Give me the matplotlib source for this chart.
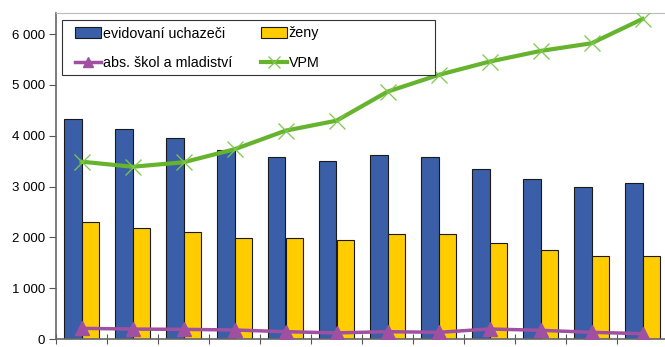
import numpy as np
import matplotlib.pyplot as plt
from matplotlib.patches import Rectangle
from matplotlib.ticker import FuncFormatter, FixedLocator

plt.rcParams['font.family'] = ['Liberation Sans', 'DejaVu Sans']

# Data (12 periods)
uchazeci = [4330, 4135, 3950, 3720, 3578, 3498, 3622, 3578, 3346, 3144, 2986, 3065]
zeny = [2297, 2185, 2106, 1988, 1988, 1943, 2073, 2060, 1896, 1746, 1634, 1640]
absolventi = [210, 195, 190, 177, 144, 120, 144, 131, 197, 171, 132, 105]
vpm = [3490, 3390, 3478, 3734, 4100, 4297, 4868, 5197, 5459, 5669, 5820, 6299]

x = np.arange(len(uchazeci))
w = 0.34

fig = plt.figure(figsize=(6.65, 3.47), dpi=100)
ax = fig.add_axes([56 / 665, 1 - 339 / 347, 1 - 56 / 665, (339 - 13.3) / 347])

b1 = ax.bar(x - w / 2, uchazeci, w, color='#3A5FA8', edgecolor='#1a1a1a', linewidth=0.8,
            label='evidovaní uchazeči', zorder=2)
b2 = ax.bar(x + w / 2, zeny, w, color='#FFCC00', edgecolor='#1a1a1a', linewidth=0.8,
            label='ženy', zorder=2)
l1, = ax.plot(x, absolventi, color='#A050A0', linewidth=2.5, marker='^', markersize=10,
              label='abs. škol a mladiství', zorder=3)
l2, = ax.plot(x, vpm, color='#66B32E', linewidth=3, marker='x', markersize=11,
              markeredgewidth=0.9, markeredgecolor='#7CC94A', label='VPM', zorder=3)

ax.set_xlim(-0.5, -0.5 + (665 - 56) / 51)
ax.set_ylim(0, 6410)
ax.set_yticks(range(0, 7000, 1000))
ax.yaxis.set_major_formatter(FuncFormatter(lambda v, p: f'{int(v):,}'.replace(',', ' ')))
ax.xaxis.set_major_locator(FixedLocator(np.arange(-0.5, 12, 1)))
ax.set_xticklabels([])
ax.tick_params(axis='x', direction='inout', length=7, width=0.8, color='#555555')
ax.tick_params(axis='y', direction='out', length=5, width=0.8, color='#555555',
               labelsize=9.5, pad=3)

for s in ['left', 'bottom']:
    ax.spines[s].set_color('#666666')
    ax.spines[s].set_linewidth(1.2)
ax.spines['top'].set_color('#bbbbbb')
ax.spines['right'].set_visible(False)

# legend box (white, framed) behind the legend entries
ax.add_patch(Rectangle((62 / 665, 1 - 75 / 347), 373 / 665, 55 / 347,
                       transform=fig.transFigure, facecolor='white',
                       edgecolor='#333333', linewidth=0.8, zorder=5, clip_on=False))
leg = ax.legend(handles=[b1, l1, b2, l2], ncol=2, loc='upper left',
                bbox_to_anchor=(75 / 665, 1 - 26.5 / 347), bbox_transform=fig.transFigure,
                fontsize=10.3, frameon=False, handlelength=1.8, handletextpad=0.15,
                columnspacing=2.0, borderpad=0, labelspacing=1.1, borderaxespad=0,
                markerscale=0.75)
leg.set_zorder(6)

fig.savefig('out.png', dpi=100)
